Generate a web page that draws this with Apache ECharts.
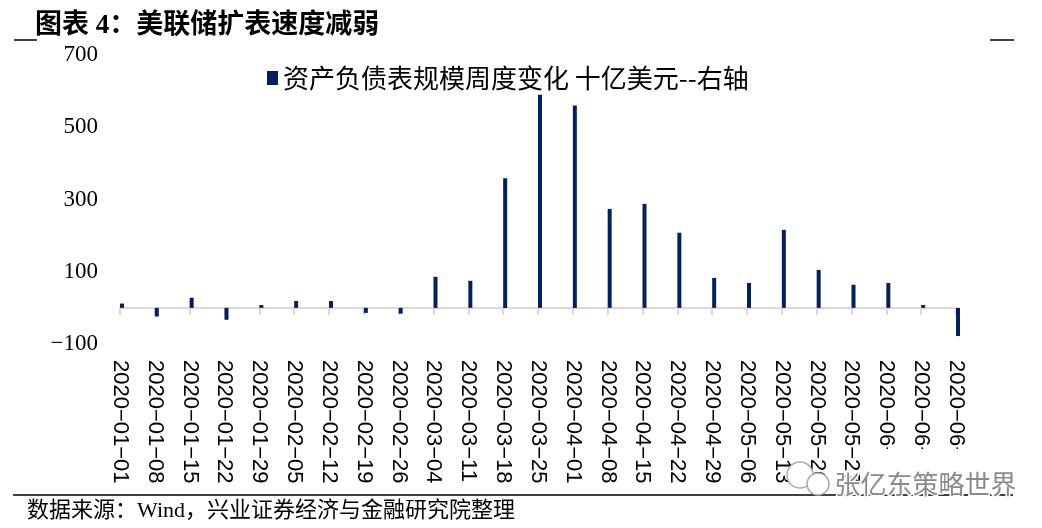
<!DOCTYPE html>
<html>
<head>
<meta charset="utf-8">
<script src="https://cdn.jsdelivr.net/npm/echarts@6/dist/echarts.min.js"></script>
<style>
html,body{margin:0;padding:0;background:#fff;}
#chart{width:1042px;height:528px;}
</style>
</head>
<body>
<div id="chart"></div>
<script>
var titleText = '图表 4：美联储扩表速度减弱';
var sourceText = '数据来源：Wind，兴业证券经济与金融研究院整理';
var seriesName = '资产负债表规模周度变化 十亿美元--右轴';
var categories = ['2020-01-01','2020-01-08','2020-01-15','2020-01-22','2020-01-29','2020-02-05','2020-02-12','2020-02-19','2020-02-26','2020-03-04','2020-03-11','2020-03-18','2020-03-25','2020-04-01','2020-04-08','2020-04-15','2020-04-22','2020-04-29','2020-05-06','2020-05-13','2020-05-20','2020-05-27','2020-06-03','2020-06-10','2020-06-17'];
var values = [12, -24, 28, -33, 8, 19, 19, -14, -16, 86, 75, 359, 590, 560, 274, 288, 208, 83, 69, 216, 105, 64, 69, 8, -78];
var yMin = -100, yMax = 700, yInterval = 200;

var pad = categories.map(function(){ return '-'; });
var chart = echarts.init(document.getElementById('chart'));
chart.setOption({
  animation: false,
  backgroundColor: '#fff',
  title: {
    text: titleText,
    left: 30, top: 8,
    textStyle: {fontFamily: '"Liberation Serif","Noto Sans CJK SC"', fontSize: 27, fontWeight: 'bold', color: '#000'}
  },
  legend: {
    data: [seriesName],
    left: 262, top: 60,
    icon: 'rect', itemWidth: 11, itemHeight: 14, itemGap: 6,
    textStyle: {fontFamily: '"Noto Sans CJK SC"', fontSize: 26, color: '#000'}
  },
  grid: {left: 120, right: 86, top: 55, bottom: 184, containLabel: false},
  xAxis: {
    type: 'category',
    data: categories,
    boundaryGap: false,
    axisLine: {onZero: true, lineStyle: {color: '#d9d9d9', width: 2}},
    axisTick: {show: true, length: 7, lineStyle: {color: '#d9d9d9', width: 2}},
    axisLabel: {
      interval: 0, rotate: -90, margin: 16,
      fontFamily: '"Liberation Sans"', fontSize: 22, color: '#000',
      formatter: function(v){ return v.replace(/-/g, '\u2212'); }
    },
    splitLine: {show: false}
  },
  yAxis: {
    type: 'value',
    min: yMin, max: yMax, interval: yInterval,
    axisLine: {show: false}, axisTick: {show: false}, splitLine: {show: false},
    axisLabel: {margin: 22, fontFamily: '"Liberation Serif"', fontSize: 23, color: '#000',
      formatter: function(v){ return String(v).replace('-', '\u2212'); }}
  },
  series: [
    {name: '_pad', type: 'bar', data: pad, barWidth: 4, barGap: '0%', itemStyle: {color: 'transparent'}},
    {name: seriesName, type: 'bar', data: values, barWidth: 4, barGap: '0%', itemStyle: {color: '#002060'}}
  ],
  graphic: [
    {type: 'line', z: 100, shape: {x1: 14, y1: 40, x2: 37, y2: 40}, style: {stroke: '#000', lineWidth: 1.5}},
    {type: 'line', z: 100, shape: {x1: 990, y1: 40, x2: 1014, y2: 40}, style: {stroke: '#000', lineWidth: 1.5}},
    {type: 'rect', z: 100, shape: {x: 870, y: 449, width: 142, height: 45}, style: {fill: '#fff'}},
    {type: 'rect', z: 100, shape: {x: 0, y: 490, width: 1042, height: 38}, style: {fill: '#fff'}},
    {type: 'line', z: 101, shape: {x1: 13, y1: 495, x2: 1013, y2: 495}, style: {stroke: '#000', lineWidth: 1.5}},
    {type: 'text', z: 101, left: 27, top: 500, style: {text: sourceText, font: '22px "Liberation Serif","Noto Sans CJK SC"', fill: '#000'}},
    {type: 'circle', z: 101, shape: {cx: 800, cy: 475, r: 13}, style: {fill: '#fff', stroke: '#aaa', lineWidth: 1.5}},
    {type: 'circle', z: 102, shape: {cx: 818, cy: 484, r: 11}, style: {fill: '#fff', stroke: '#aaa', lineWidth: 1.5}},
    {type: 'text', z: 103, left: 833, top: 470, style: {text: '张亿东策略世界', font: '26px "Noto Sans CJK SC"', fill: '#8a8a8a', stroke: '#fff', lineWidth: 3}}
  ]
});
</script>
</body>
</html>
